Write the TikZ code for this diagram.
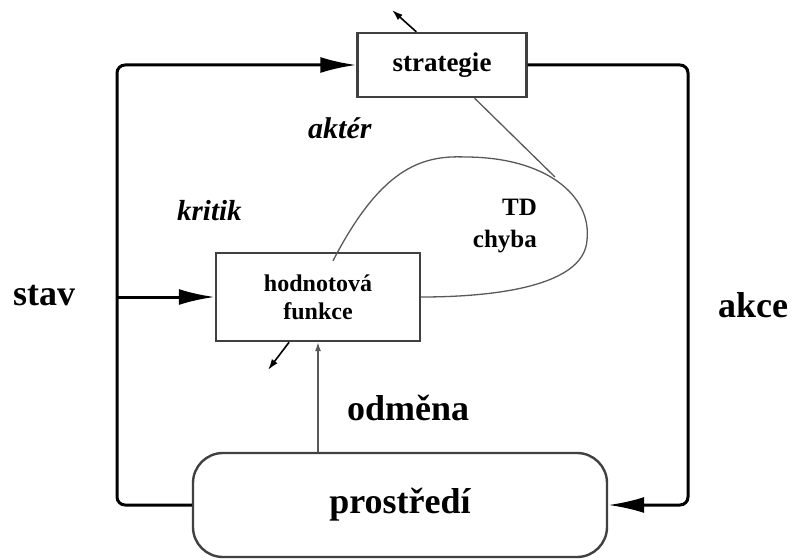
\documentclass[tikz,border=0pt]{standalone}
\usepackage{fontspec}
\setmainfont{Liberation Serif}
\usetikzlibrary{arrows.meta,calc}

\begin{document}
\begin{tikzpicture}[x=1pt,y=-1pt,
    blockbox/.style={draw=black!75,line width=2.4pt,minimum width=169pt,minimum height=64pt,
      font=\fontsize{27}{30}\selectfont\bfseries},
    mainline/.style={line width=3pt,rounded corners=8pt},
    bigtip/.style={-{Latex[length=36pt,width=16pt]}},
    fineline/.style={draw=black!65,line width=1.3pt},
    smalltip/.style={-{Latex[length=11pt,width=7pt]}},
    biglabel/.style={inner sep=0pt,anchor=base west,font=\fontsize{36}{40}\selectfont\bfseries},
    itlabel/.style={inner sep=0pt,anchor=base west,font=\fontsize{30}{34}\selectfont\bfseries\itshape}]
  \useasboundingbox (0,0) rectangle (794,559);
  %\draw[very thin,lightgray] (0,0) grid[step=50] (794,559);

  \node[blockbox] (strat) at (442,65) {strategie};
  \node[blockbox,minimum width=204pt,minimum height=88pt,align=center,
    font=\fontsize{24}{28}\selectfont\bfseries] (hodn) at (318,297) {hodnotová\\funkce};
  \node[draw=black!75,line width=2.4pt,rounded corners=30pt,minimum width=414pt,minimum height=104pt,
    font=\fontsize{36}{40}\selectfont\bfseries] (prostr) at (400,505) {prostředí};

  \node[biglabel] (stav) at (13,305) {stav};
  \node[biglabel] (akce) at (718,317) {akce};
  \node[biglabel] (odmena) at (347,420) {odměna};
  \node[itlabel] (akter) at (308,138) {aktér};
  \node[itlabel,font=\fontsize{29}{32}\selectfont\bfseries\itshape] (kritik) at (177,220) {kritik};
  \node[inner sep=0pt,anchor=north east,align=right,font=\fontsize{25}{32}\selectfont\bfseries]
    (td) at (537,199) {TD\\chyba};

  \coordinate (lc) at (117,65);
  \coordinate (rc) at (688,65);
  \draw[mainline,bigtip] (prostr.west) -| (lc) -- (strat.west);
  \draw[mainline,bigtip] (lc |- hodn.west) -- (hodn.west);
  \draw[mainline,bigtip] (strat.east) -| (rc |- prostr.east) -- (prostr.east);

  \draw[fineline,-{Latex[length=9pt,width=6pt]}] (prostr.north -| hodn.south) -- (hodn.south);

  \coordinate (vout) at (268,370);
  \coordinate (pout) at (392,10);
  \draw[line width=1.6pt,smalltip] ($(hodn.south west)!0.36!(hodn.south east)$) -- (vout);
  \draw[line width=1.6pt,smalltip] ($(strat.north west)!0.35!(strat.north east)$) -- (pout);

  % TD loop
  \coordinate (cs) at ($(hodn.north)+(15,9)$);
  \coordinate (tdjoin) at (555,177);
  \draw[fineline] (cs) .. controls (380,170) and (420,155) .. (465,157)
    .. controls (545,157) and (592,195) .. (587,240)
    .. controls (584,290) and (480,297) .. (hodn.east);
  \draw[fineline] ($(strat.south west)!0.69!(strat.south east)$) -- (tdjoin);
\end{tikzpicture}
\end{document}
